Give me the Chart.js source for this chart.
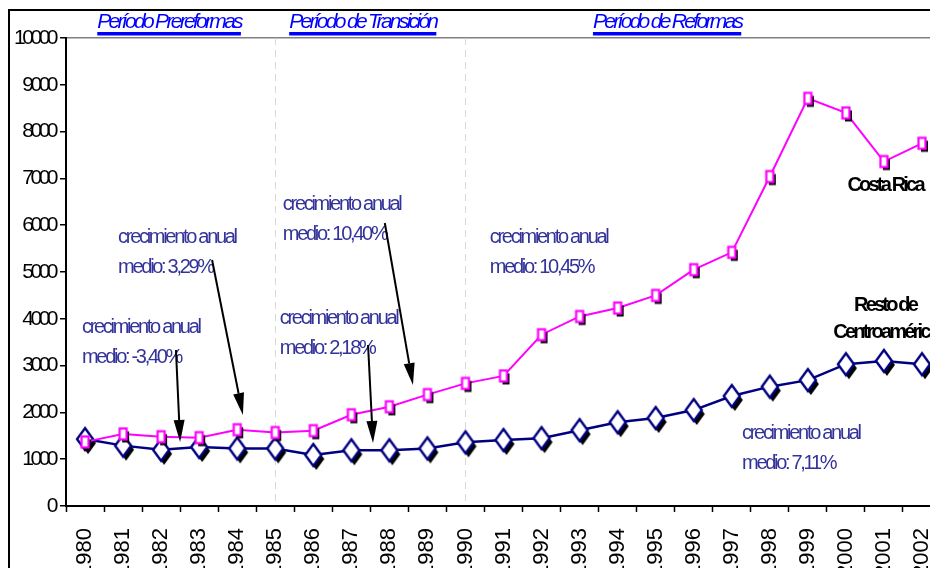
<!DOCTYPE html>
<html>
<head>
<meta charset="utf-8">
<script src="https://cdn.jsdelivr.net/npm/chart.js@4.4.0/dist/chart.umd.min.js"></script>
<style>
  html, body { margin: 0; padding: 0; width: 930px; height: 568px; overflow: hidden; background: #fff; }
  #frame { position: absolute; left: 8px; top: 9px; width: 1000px; height: 1000px; border: 2px solid #000; box-sizing: border-box; }
  #wrap { position: absolute; left: 0; top: 0; width: 950px; height: 568px; }
</style>
</head>
<body>
<div id="frame"></div>
<div id="wrap"><canvas id="growthChart" width="950" height="568"></canvas></div>
<script>
// years on the category axis
const years = ['1980', '1981', '1982', '1983', '1984', '1985', '1986', '1987', '1988', '1989', '1990',
  '1991', '1992', '1993', '1994', '1995', '1996', '1997', '1998', '1999', '2000', '2001', '2002'];

// Costa Rica
const costaRica = [1370, 1540, 1480, 1460, 1630, 1570, 1610, 1950, 2120, 2380, 2620,
  2780, 3660, 4050, 4230, 4500, 5050, 5420, 7040, 8710, 8400, 7360, 7750];

// Resto de Centroamérica
const restoCA = [1430, 1290, 1200, 1260, 1230, 1230, 1090, 1190, 1190, 1230, 1360,
  1410, 1450, 1620, 1790, 1880, 2050, 2350, 2550, 2690, 3030, 3100, 3030];

const yTicks = [0, 1000, 2000, 3000, 4000, 5000, 6000, 7000, 8000, 9000, 10000];

// period headers (x = category index of the text centre)
const periods = [
  { text: 'Período Prereformas', x: 2.21 },
  { text: 'Período de Transición', x: 7.3 },
  { text: 'Período de Reformas', x: 15.3 }
];
const periodBreaks = [5, 10];

// growth notes, placed in data units (x = category index, y = value)
const notes = [
  { x: -0.08, y: 3825, lines: ['crecimiento anual', 'medio: -3,40%'] },
  { x: 0.87, y: 5748, lines: ['crecimiento anual', 'medio: 3,29%'] },
  { x: 5.2, y: 6432, lines: ['crecimiento anual', 'medio: 10,40%'] },
  { x: 5.12, y: 4017, lines: ['crecimiento anual', 'medio: 2,18%'] },
  { x: 10.64, y: 5748, lines: ['crecimiento anual', 'medio: 10,45%'] },
  { x: 17.27, y: 1560, lines: ['crecimiento anual', 'medio: 7,11%'] }
];

const seriesNames = [
  { x: 21.03, y: 6838, lines: ['Costa Rica'] },
  { x: 21.03, y: 4274, lines: ['Resto de', 'Centroamérica'] }
];

const arrows = [
  { from: [2.39, 3333], to: [2.50, 1368] },
  { from: [3.34, 5256], to: [4.15, 1944] },
  { from: [7.44, 3440], to: [7.57, 1346] },
  { from: [7.88, 6047], to: [8.62, 2585] }
];

const FONT = '"Liberation Sans", Arial, sans-serif';

// marker images with the offset black shadow
function makeSquareMarker() {
  const c = document.createElement('canvas');
  c.width = 18; c.height = 22;
  const g = c.getContext('2d');
  g.fillStyle = '#000';
  g.fillRect(9 - 3.5 + 2.5, 11 - 5.5 + 3, 7, 11);
  g.fillStyle = '#fff';
  g.fillRect(9 - 3.5, 11 - 5.5, 7, 11);
  g.strokeStyle = '#ff00ff';
  g.lineWidth = 2.2;
  g.strokeRect(9 - 3.5, 11 - 5.5, 7, 11);
  return c;
}

function makeDiamondMarker() {
  const c = document.createElement('canvas');
  c.width = 28; c.height = 36;
  const g = c.getContext('2d');
  const cx = 14, cy = 18, hw = 8, hh = 11;
  const diamond = (dx, dy) => {
    g.beginPath();
    g.moveTo(cx + dx, cy + dy - hh);
    g.lineTo(cx + dx + hw, cy + dy);
    g.lineTo(cx + dx, cy + dy + hh);
    g.lineTo(cx + dx - hw, cy + dy);
    g.closePath();
  };
  diamond(3, 4);
  g.fillStyle = '#000';
  g.fill();
  diamond(0, 0);
  g.fillStyle = '#fff';
  g.fill();
  g.strokeStyle = '#000080';
  g.lineWidth = 2.4;
  g.stroke();
  return c;
}

function drawText(ctx, str, x, y, font, color, spacing, align) {
  ctx.save();
  ctx.font = font;
  ctx.fillStyle = color;
  ctx.letterSpacing = spacing;
  ctx.textAlign = align;
  ctx.textBaseline = 'middle';
  ctx.fillText(str, x, y);
  const w = ctx.measureText(str).width;
  ctx.restore();
  return w;
}

const backdrop = {
  id: 'backdrop',
  beforeDatasetsDraw(chart) {
    const { ctx, chartArea, scales } = chart;
    ctx.save();
    ctx.strokeStyle = '#d9d9d9';
    ctx.lineWidth = 1;
    ctx.setLineDash([7, 5]);
    periodBreaks.forEach(i => {
      const px = Math.round(scales.x.getPixelForValue(i)) + 0.5;
      ctx.beginPath();
      ctx.moveTo(px, chartArea.top);
      ctx.lineTo(px, chartArea.bottom);
      ctx.stroke();
    });
    ctx.restore();
  }
};

const annotations = {
  id: 'annotations',
  afterDraw(chart) {
    const { ctx, chartArea, scales } = chart;
    const xs = scales.x, ys = scales.y;

    // headers
    periods.forEach(p => {
      const cx = xs.getPixelForValue(p.x);
      const font = 'italic 21px ' + FONT;
      const w = drawText(ctx, p.text, cx, chartArea.top - 16, font, '#0000ff', '-2.7px', 'center');
      ctx.save();
      ctx.fillStyle = '#0000ff';
      ctx.fillRect(cx - w / 2, chartArea.top - 6, w, 3.5);
      ctx.restore();
    });

    // growth notes
    notes.forEach(n => {
      const x = xs.getPixelForValue(n.x);
      const y = ys.getPixelForValue(n.y);
      n.lines.forEach((line, i) => {
        drawText(ctx, line, x, y + i * 30, '20px ' + FONT, '#333399', '-2.3px', 'left');
      });
    });

    // series names
    seriesNames.forEach(n => {
      const x = xs.getPixelForValue(n.x);
      const y = ys.getPixelForValue(n.y);
      n.lines.forEach((line, i) => {
        drawText(ctx, line, x, y + i * 27, 'bold 20px ' + FONT, '#000', '-2.8px', 'center');
      });
    });

    // arrows
    arrows.forEach(a => {
      const x1 = xs.getPixelForValue(a.from[0]), y1 = ys.getPixelForValue(a.from[1]);
      const x2 = xs.getPixelForValue(a.to[0]), y2 = ys.getPixelForValue(a.to[1]);
      const ang = Math.atan2(y2 - y1, x2 - x1);
      const len = 22, half = 5.5;
      const bx = x2 - len * Math.cos(ang), by = y2 - len * Math.sin(ang);
      ctx.save();
      ctx.strokeStyle = '#000';
      ctx.fillStyle = '#000';
      ctx.lineWidth = 2;
      ctx.beginPath();
      ctx.moveTo(x1, y1);
      ctx.lineTo(bx, by);
      ctx.stroke();
      ctx.beginPath();
      ctx.moveTo(x2, y2);
      ctx.lineTo(bx + half * Math.sin(ang), by - half * Math.cos(ang));
      ctx.lineTo(bx - half * Math.sin(ang), by + half * Math.cos(ang));
      ctx.closePath();
      ctx.fill();
      ctx.restore();
    });
  }
};

const chart = new Chart(document.getElementById('growthChart'), {
  type: 'line',
  data: {
    labels: years,
    datasets: [
      {
        label: 'Costa Rica',
        data: costaRica,
        borderColor: '#ff00ff',
        borderWidth: 2,
        pointStyle: makeSquareMarker(),
        pointRadius: 5,
        tension: 0
      },
      {
        label: 'Resto de Centroamérica',
        data: restoCA,
        borderColor: '#000080',
        borderWidth: 2.5,
        pointStyle: makeDiamondMarker(),
        pointRadius: 5,
        tension: 0
      }
    ]
  },
  options: {
    responsive: false,
    animation: false,
    events: [],
    layout: { padding: { left: 0, right: 9, top: 38, bottom: 0 } },
    plugins: {
      legend: { display: false },
      tooltip: { enabled: false }
    },
    scales: {
      x: {
        offset: true,
        grid: { offset: true, drawOnChartArea: false, tickColor: '#000', tickLength: 6, tickWidth: 1.5 },
        border: { color: '#000', width: 2 },
        ticks: {
          autoSkip: false,
          minRotation: 90,
          maxRotation: 90,
          color: '#000',
          padding: 16,
          font: { family: FONT, size: 22 }
        },
        afterFit(scale) {
          scale.height = 62;
          scale.paddingLeft = 0;
          scale.paddingRight = 0;
        }
      },
      y: {
        min: 0,
        max: 10000,
        afterBuildTicks(scale) {
          scale.ticks = yTicks.map(v => ({ value: v }));
        },
        grid: {
          color: c => (c.tick && c.tick.value === 10000 ? '#808080' : 'rgba(0,0,0,0)'),
          lineWidth: 1.5,
          tickColor: '#000',
          tickLength: 6
        },
        border: { color: '#000', width: 2 },
        ticks: {
          color: '#000',
          padding: 5,
          font: { family: FONT, size: 21 },
          callback: v => String(v)
        },
        afterFit(scale) {
          scale.width = 66;
          scale.paddingTop = 0;
          scale.paddingBottom = 0;
        }
      }
    }
  },
  plugins: [backdrop, annotations]
});

// squeeze the y tick labels like the original
const yScale = chart.scales.y;
const origDrawLabels = yScale.drawLabels.bind(yScale);
yScale.drawLabels = function (area) {
  const ctx = this.ctx;
  ctx.save();
  ctx.letterSpacing = '-3.5px';
  origDrawLabels(area);
  ctx.restore();
};
chart.draw();
</script>
</body>
</html>
